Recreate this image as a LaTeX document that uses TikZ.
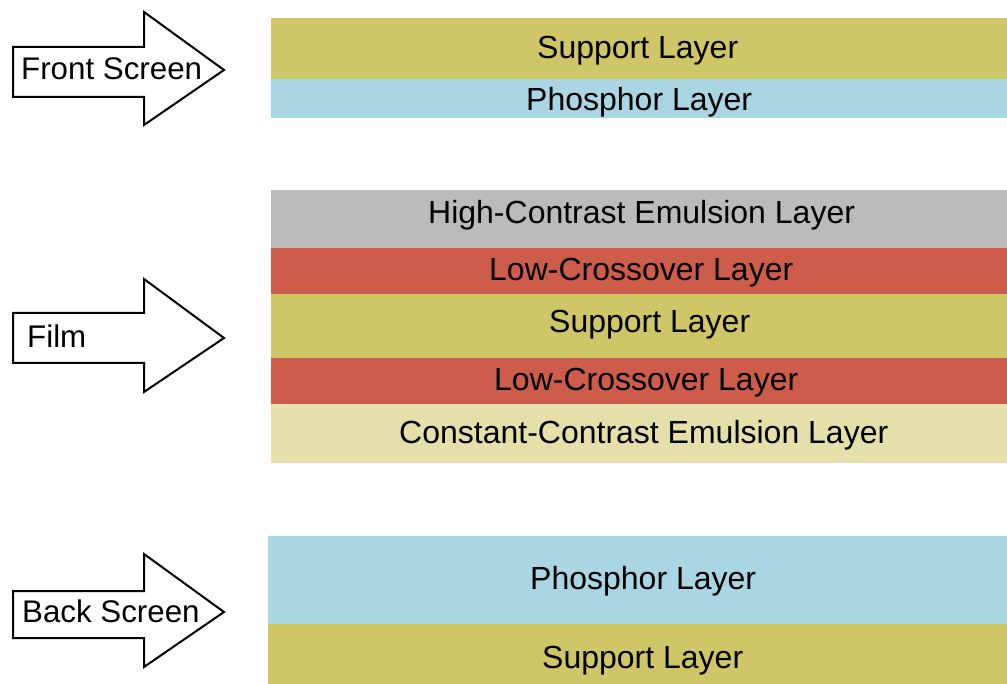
\documentclass[tikz,border=0pt]{standalone}
\usepackage{fontspec}
\setmainfont{Liberation Sans}
\definecolor{supportc}{HTML}{CFC667}
\definecolor{phosphc}{HTML}{AAD5E2}
\definecolor{grayc}{HTML}{BBBBBB}
\definecolor{redc}{HTML}{CD5C4B}
\definecolor{beigec}{HTML}{E5DFA9}
\tikzset{
  lbl/.style={anchor=base west, inner sep=0pt, font=\fontsize{32}{38}\selectfont},
  albl/.style={anchor=base west, inner sep=0pt, font=\fontsize{31.3}{37}\selectfont},
  arrowshape/.style={draw=black, line width=2pt, fill=white, line join=miter}
}
\begin{document}
\begin{tikzpicture}[x=1pt,y=-1pt]
\useasboundingbox (0,0) rectangle (1007,684);
% arrows
\draw[arrowshape] (13,47) -- (144,47) -- (144,12) -- (224,70) -- (144,125) -- (144,97) -- (13,97) -- cycle;
\draw[arrowshape] (13,313) -- (144,313) -- (144,279) -- (224,338) -- (144,392) -- (144,363) -- (13,363) -- cycle;
\draw[arrowshape] (13,591) -- (144,591) -- (144,554) -- (224,612) -- (144,667) -- (144,638) -- (13,638) -- cycle;
\node[albl] (fs) at (21,80) {Front Screen};
\node[albl] (film) at (27,348) {Film};
\node[albl] (bs) at (22,622) {Back Screen};
% front screen
\fill[supportc] (271,18) rectangle (1007,79);
\fill[phosphc] (271,79) rectangle (1007,118);
\node[lbl] (fsup) at (537,59) {Support Layer};
\node[lbl] (fpho) at (526,111) {Phosphor Layer};
% film
\fill[grayc] (271,190) rectangle (1007,248);
\fill[redc] (271,248) rectangle (1007,294);
\fill[supportc] (271,294) rectangle (1007,358);
\fill[redc] (271,358) rectangle (1007,404);
\fill[beigec] (271,404) rectangle (1007,463);
\node[lbl] (hc) at (428,224) {High-Contrast Emulsion Layer};
\node[lbl] (lc1) at (489,281) {Low-Crossover Layer};
\node[lbl] (msup) at (549,333) {Support Layer};
\node[lbl] (lc2) at (494,391) {Low-Crossover Layer};
\node[lbl] (cc) at (399,443) {Constant-Contrast Emulsion Layer};
% back screen
\fill[phosphc] (268,536) rectangle (1007,624);
\fill[supportc] (268,624) rectangle (1007,684);
\node[lbl] (bpho) at (530,589) {Phosphor Layer};
\node[lbl] (bsup) at (542,668) {Support Layer};
\end{tikzpicture}
\end{document}
